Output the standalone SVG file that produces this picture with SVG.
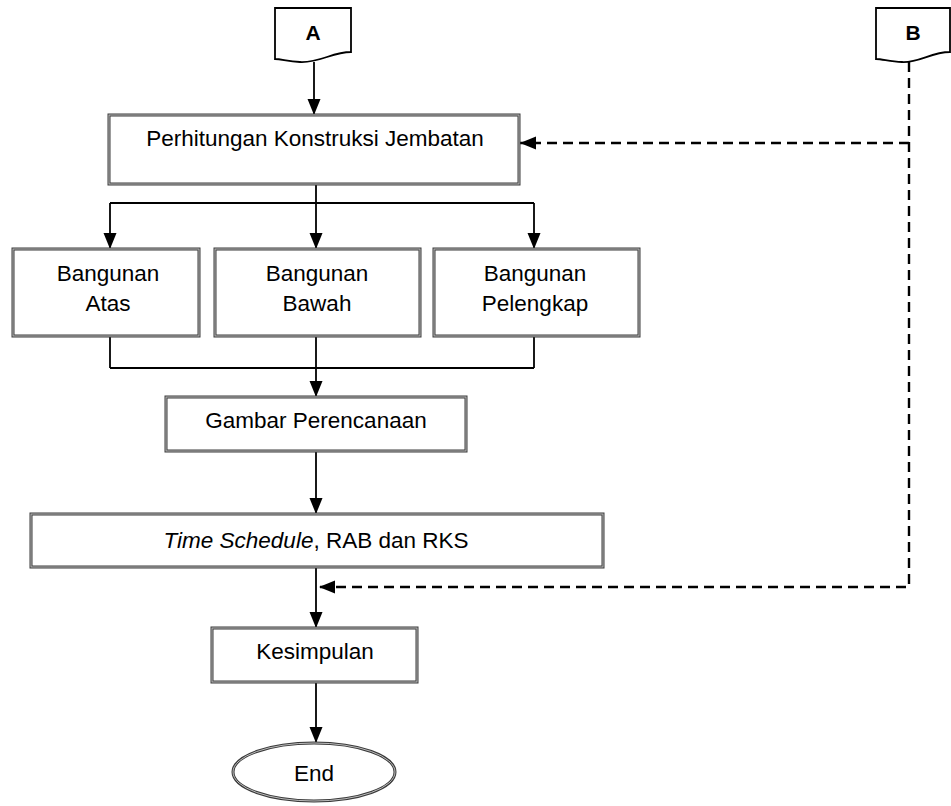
<svg xmlns="http://www.w3.org/2000/svg" width="951" height="806" viewBox="0 0 951 806">
<defs>
<style>
.box{fill:#fff;stroke:#3a3a3a;stroke-width:3}
.inner{fill:none;stroke:#bdbdbd;stroke-width:1}
.t{font-family:"Liberation Sans",Arial,sans-serif;font-size:22.5px;fill:#000;text-anchor:middle}
.lbl{font-family:"Liberation Sans",Arial,sans-serif;font-size:21px;font-weight:bold;fill:#000;text-anchor:middle}
.ln{fill:none;stroke:#000;stroke-width:1.8}
.dash{fill:none;stroke:#000;stroke-width:2.4;stroke-dasharray:10 6}
.off{fill:#fff;stroke:#000;stroke-width:1.8}
</style>
<marker id="ah" markerUnits="userSpaceOnUse" markerWidth="16" markerHeight="16" viewBox="0 0 16 16" refX="16" refY="8" orient="auto">
<path d="M0,1.5 L16,8 L0,14.5 Z" fill="#000"/>
</marker>
</defs>

<g id="connectors">
<line class="ln" x1="314" y1="62" x2="314" y2="115" marker-end="url(#ah)"/>
<line class="ln" x1="316" y1="184" x2="316" y2="203"/>
<line class="ln" x1="110" y1="203" x2="534" y2="203"/>
<line class="ln" x1="110" y1="203" x2="110" y2="249" marker-end="url(#ah)"/>
<line class="ln" x1="316" y1="203" x2="316" y2="249" marker-end="url(#ah)"/>
<line class="ln" x1="534" y1="203" x2="534" y2="249" marker-end="url(#ah)"/>
<line class="ln" x1="110" y1="336" x2="110" y2="368"/>
<line class="ln" x1="534" y1="336" x2="534" y2="368"/>
<line class="ln" x1="110" y1="368" x2="534" y2="368"/>
<line class="ln" x1="316" y1="336" x2="316" y2="397" marker-end="url(#ah)"/>
<line class="ln" x1="316" y1="451" x2="316" y2="514" marker-end="url(#ah)"/>
<line class="ln" x1="316" y1="567" x2="316" y2="628" marker-end="url(#ah)"/>
<line class="ln" x1="316" y1="682" x2="316" y2="743" marker-end="url(#ah)"/>
<polyline class="dash" points="909,62 909,587 319,587" marker-end="url(#ah)"/>
<line class="dash" x1="909" y1="143" x2="520" y2="143" marker-end="url(#ah)"/>
</g>

<g id="A">
<path class="off" d="M275,8 H351 V52 C332,52 320,63 300,62 C288,62 282,59 275,59 Z"/>
<text class="lbl" x="313" y="40">A</text>
</g>

<g id="B">
<path class="off" d="M876,8 H950 V52 C931,52 919,63 902,62 C890,62 883,59 876,59 Z"/>
<text class="lbl" x="913" y="40">B</text>
</g>

<g id="perhitungan">
<rect class="box" x="109" y="115" width="410" height="69"/>
<rect class="inner" x="109" y="115" width="410" height="69"/>
<text class="t" x="315" y="146">Perhitungan Konstruksi Jembatan</text>
</g>

<g id="atas">
<rect class="box" x="13" y="249" width="186" height="87"/>
<rect class="inner" x="13" y="249" width="186" height="87"/>
<text class="t" x="108" y="281">Bangunan</text>
<text class="t" x="108" y="311">Atas</text>
</g>

<g id="bawah">
<rect class="box" x="215" y="249" width="205" height="87"/>
<rect class="inner" x="215" y="249" width="205" height="87"/>
<text class="t" x="317" y="281">Bangunan</text>
<text class="t" x="317" y="311">Bawah</text>
</g>

<g id="pelengkap">
<rect class="box" x="434" y="249" width="205" height="87"/>
<rect class="inner" x="434" y="249" width="205" height="87"/>
<text class="t" x="535" y="281">Bangunan</text>
<text class="t" x="535" y="311">Pelengkap</text>
</g>

<g id="gambar">
<rect class="box" x="166" y="397" width="300" height="54"/>
<rect class="inner" x="166" y="397" width="300" height="54"/>
<text class="t" x="316" y="428">Gambar Perencanaan</text>
</g>

<g id="schedule">
<rect class="box" x="31" y="514" width="572" height="53"/>
<rect class="inner" x="31" y="514" width="572" height="53"/>
<text class="t" x="316" y="548"><tspan font-style="italic">Time Schedule</tspan>, RAB dan RKS</text>
</g>

<g id="kesimpulan">
<rect class="box" x="212" y="628" width="205" height="54"/>
<rect class="inner" x="212" y="628" width="205" height="54"/>
<text class="t" x="315" y="659">Kesimpulan</text>
</g>

<g id="end">
<ellipse class="box" cx="314" cy="772" rx="81" ry="29"/>
<ellipse class="inner" cx="314" cy="772" rx="81" ry="29"/>
<text class="t" x="314" y="781">End</text>
</g>
</svg>
